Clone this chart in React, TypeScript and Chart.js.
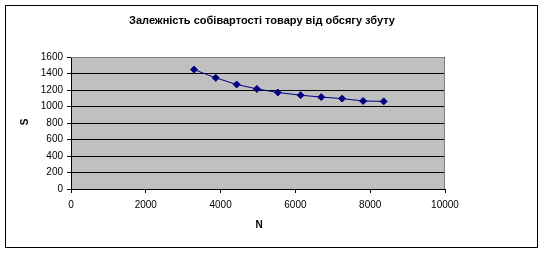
import React, { useEffect, useRef } from "react";
import { Chart, registerables } from "chart.js";

Chart.register(...registerables);

const TITLE = "Залежність собівартості товару від обсягу збуту";
const X_TITLE = "N";
const Y_TITLE = "S";
const volumeN = [3290, 3870, 4430, 4970, 5530, 6140, 6690, 7250, 7810, 8360];
const costS = [1447, 1347, 1267, 1213, 1170, 1137, 1114, 1096, 1067, 1062];

const FONT = "'Liberation Sans', Arial, sans-serif";

export default function App() {
  const ref = useRef<HTMLCanvasElement>(null);
  useEffect(() => {
    document.body.style.margin = "0";
    const canvas = ref.current!;
    const deco = {
      id: "deco",
      beforeDraw(chart: any) {
        const { ctx, chartArea: a } = chart;
        ctx.save();
        ctx.fillStyle = "#ffffff";
        ctx.fillRect(0, 0, chart.width, chart.height);
        ctx.fillStyle = "#C0C0C0";
        ctx.fillRect(a.left, a.top, a.right - a.left, a.bottom - a.top);
        ctx.restore();
      },
      afterDraw(chart: any) {
        const { ctx, chartArea: a } = chart;
        ctx.save();
        ctx.strokeStyle = "#808080";
        ctx.lineWidth = 1;
        ctx.beginPath();
        ctx.moveTo(a.left, a.top + 0.5);
        ctx.lineTo(a.right - 0.5, a.top + 0.5);
        ctx.lineTo(a.right - 0.5, a.bottom);
        ctx.stroke();
        ctx.strokeStyle = "#000000";
        ctx.strokeRect(5.5, 5.5, 532, 242);
        ctx.fillStyle = "#000000";
        ctx.font = `bold 11px ${FONT}`;
        ctx.textAlign = "center";
        ctx.textBaseline = "middle";
        ctx.fillText(TITLE, 262, 21);
        ctx.font = `bold 10px ${FONT}`;
        ctx.fillText(X_TITLE, 259, 225);
        ctx.translate(25, 122);
        ctx.rotate(-Math.PI / 2);
        ctx.fillText(Y_TITLE, 0, 0);
        ctx.restore();
      },
    };
    const chart = new Chart(canvas, {
      type: "scatter",
      data: {
        datasets: [
          {
            data: volumeN.map((x, i) => ({ x, y: costS[i] })),
            showLine: true,
            borderColor: "#000080",
            borderWidth: 1,
            backgroundColor: "#000080",
            pointStyle: "rectRot",
            pointRadius: 3.5,
            pointBorderWidth: 1,
            pointBorderColor: "#000080",
          },
        ],
      },
      options: {
        animation: false,
        responsive: false,
        layout: { padding: { left: 31, right: 99, top: 57, bottom: 35 } },
        plugins: { legend: { display: false }, title: { display: false }, tooltip: { enabled: false } },
        scales: {
          x: {
            type: "linear",
            min: 0,
            max: 10000,
            afterFit: (s: any) => { s.height = 30; },
            ticks: { stepSize: 2000, color: "#000", font: { family: FONT, size: 10 }, padding: 6, maxRotation: 0, callback: (v: any) => String(v) },
            grid: { drawOnChartArea: false, drawTicks: true, tickLength: 4, color: "#000" },
            border: { color: "#000", width: 1 },
          },
          y: {
            type: "linear",
            min: 0,
            max: 1600,
            afterFit: (s: any) => { s.width = 40; },
            ticks: { stepSize: 200, color: "#000", font: { family: FONT, size: 10 }, padding: 4, callback: (v: any) => String(v) },
            grid: { drawTicks: true, tickLength: 4, color: "#000" },
            border: { color: "#000", width: 1 },
          },
        },
      },
      plugins: [deco],
    });
    return () => chart.destroy();
  }, []);
  return (
    <div style={{ position: "absolute", left: 0, top: 0, width: 544, height: 254 }}>
      <canvas ref={ref} width={544} height={254} style={{ width: 544, height: 254, display: "block" }} />
    </div>
  );
}
